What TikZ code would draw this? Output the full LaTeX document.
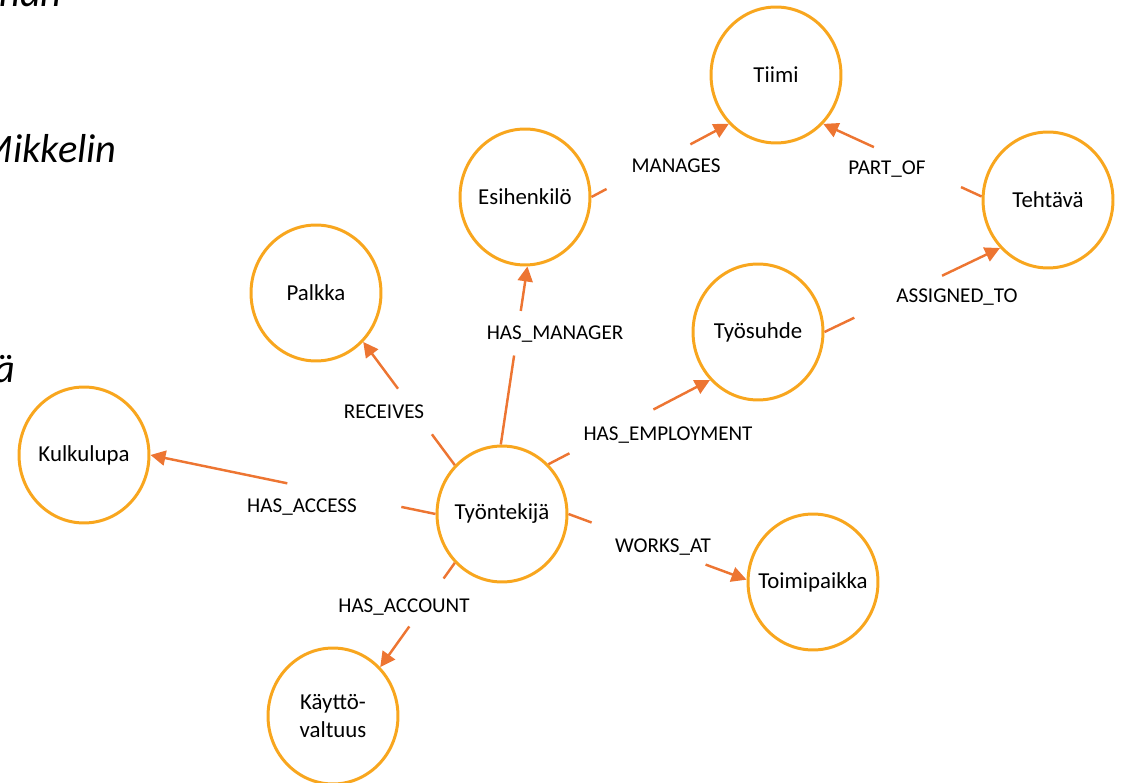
\documentclass[tikz,border=0pt]{standalone}
\usepackage{fontspec}
\setmainfont{Carlito}
\usetikzlibrary{shapes.geometric}
\usetikzlibrary{arrows.meta}
\definecolor{nodeorange}{RGB}{248,166,30}
\definecolor{edgeorange}{RGB}{237,117,50}
\tikzset{
    entity/.style = {ellipse, line width=1.7pt, draw=nodeorange, fill=white, align=center, minimum width=2.6cm, minimum height=2.72cm, inner xsep=-12pt, inner ysep=0pt, font=\fontsize{13}{16}\selectfont, text=black},
    edgen/.style = {-, line width=1.4pt, edgeorange},
    edgea/.style = {-{Triangle[length=0.3cm,width=0.3cm]}, line width=1.4pt, edgeorange},
    rel/.style = {anchor=base, inner sep=0pt, font=\fontsize{12}{14}\selectfont, text=black},
    slide/.style = {anchor=base east, inner sep=0pt, font=\fontsize{23}{28}\selectfont\itshape, text=black}
}
\begin{document}
\begin{tikzpicture}[x=0.02cm, y=-0.02cm]
\path[use as bounding box] (0,0) rectangle (1122,783);
\clip (0,0) rectangle (1122,783);
% cut off slide text
\node[slide] at (62,7) (tnan) {nan};
\node[slide] at (117,163) (tmik) {Mikkelin};
\node[slide] at (16,383) (tae) {ä};
%
\node[entity] at (776,75) (tiimi) {Tiimi};
\node[entity] at (525,197) (esi) {Esihenkilö};
\node[entity] at (1048,200) (teh) {Tehtävä};
\node[entity] at (316,293) (pal) {Palkka};
\node[entity] at (758,332) (suh) {Työsuhde};
\node[entity] at (84,455) (kul) {Kulkulupa};
\node[entity] at (502,514) (tyo) {Työntekijä};
\node[entity] at (813,582) (toi) {Toimipaikka};
\node[entity] at (333,716) (kay) {Käyttö-\\valtuus};
%
\foreach \s/\t/\pa/\pb in {esi.east/tiimi.226/0.11/0.72, teh.177/tiimi.-46/0.13/0.68,
    tyo.91/esi.-88/0.50/0.75, tyo.134/pal.-46/0.25/0.62, tyo.west/kul.east/0.12/0.52,
    tyo.226/kay.46/0.15/0.61, tyo.47/suh.225/0.13/0.65, tyo.east/toi.178/0.13/0.77,
    suh.east/teh.225/0.17/0.67}{
  \path (\s) -- coordinate[pos=\pa] (ga) coordinate[pos=\pb] (gb) (\t);
  \draw[edgen] (\s) -- (ga);
  \draw[edgea] (gb) -- (\t);
}
%
\node[rel] at (676,173) (lman) {MANAGES};
\node[rel] at (887,175) (lpart) {PART\_OF};
\node[rel] at (555,340) (lhasm) {HAS\_MANAGER};
\node[rel] at (957,303) (lassi) {ASSIGNED\_TO};
\node[rel] at (384,419) (lrec) {RECEIVES};
\node[rel] at (668,441) (lemp) {HAS\_EMPLOYMENT};
\node[rel] at (302,513) (lacc) {HAS\_ACCESS};
\node[rel] at (663,552) (lwork) {WORKS\_AT};
\node[rel] at (404,612) (lacct) {HAS\_ACCOUNT};
\end{tikzpicture}
\end{document}
